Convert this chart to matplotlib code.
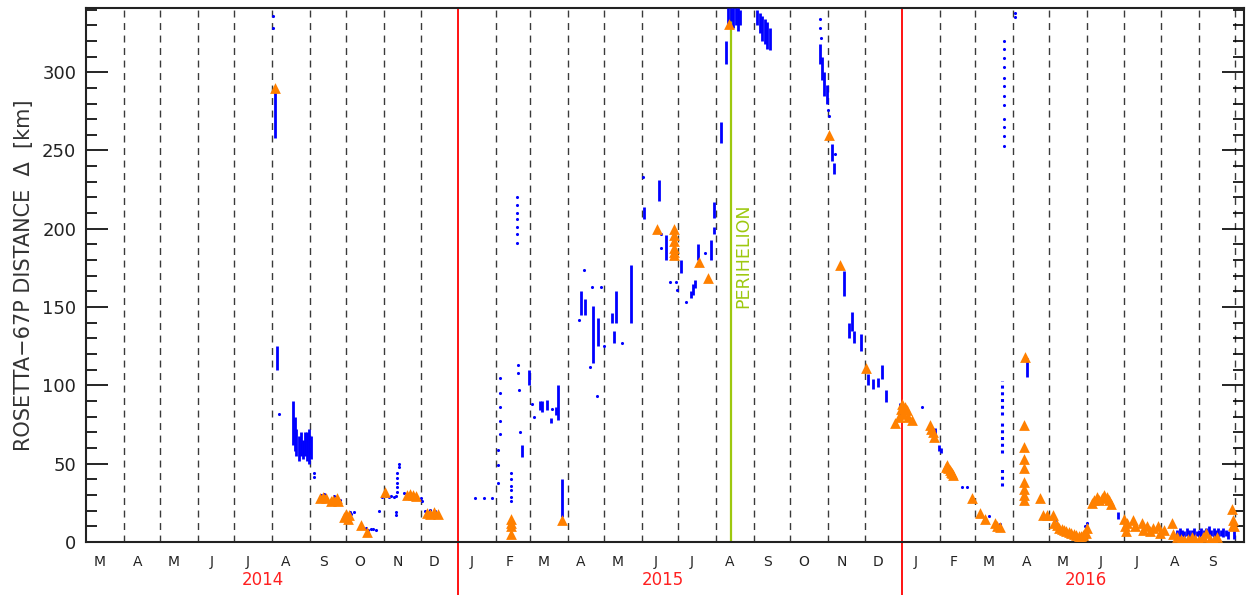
import numpy as np
import pandas as pd
import matplotlib
matplotlib.use('Agg')
import matplotlib.pyplot as plt
from matplotlib.ticker import MultipleLocator

# ---- data ----
# single blue measurements (date, distance km)
blue_dates = ['2014-08-02', '2014-08-02', '2014-08-07', '2014-09-04', '2014-09-04',
              '2014-09-10', '2014-09-13', '2014-09-21', '2014-09-26',
              '2014-10-04', '2014-10-05', '2014-10-07',
              '2014-10-17', '2014-10-19', '2014-10-21', '2014-10-23', '2014-10-25',
              '2014-10-28', '2014-10-30',
              '2014-11-03', '2014-11-05', '2014-11-07', '2014-11-09', '2014-11-11',
              '2014-11-11', '2014-11-11',
              '2014-11-13', '2014-11-13', '2014-11-12', '2014-11-12', '2014-11-12', '2014-11-12', '2014-11-12',
              '2014-11-17', '2014-12-01', '2014-12-02', '2014-12-05', '2014-12-09', '2014-12-13',
              '2015-01-15', '2015-01-22', '2015-01-29',
              '2015-02-04', '2015-02-04', '2015-02-04', '2015-02-04', '2015-02-04',
              '2015-02-03', '2015-02-03', '2015-02-03',
              '2015-02-18', '2015-02-18', '2015-02-18', '2015-02-18', '2015-02-18', '2015-02-18', '2015-02-18',
              '2015-02-13', '2015-02-13', '2015-02-13', '2015-02-13', '2015-02-13', '2015-02-13',
              '2015-02-19', '2015-02-19', '2015-02-20', '2015-02-21',
              '2015-03-03', '2015-03-04', '2015-03-19',
              '2015-04-10', '2015-04-14', '2015-04-19', '2015-04-21', '2015-04-25', '2015-04-28',
              '2015-05-01', '2015-05-16',
              '2015-06-02', '2015-06-17', '2015-06-17', '2015-06-24', '2015-06-29', '2015-06-30',
              '2015-07-07', '2015-07-23',
              '2015-10-25', '2015-10-25', '2015-10-26',
              '2015-11-01', '2015-11-02', '2015-11-07',
              '2016-01-17', '2016-02-19', '2016-02-23', '2016-03-12', '2016-03-21',
              '2016-03-25', '2016-03-25', '2016-03-25', '2016-03-25', '2016-03-25', '2016-03-25',
              '2016-03-25', '2016-03-25', '2016-03-25', '2016-03-25', '2016-03-25', '2016-03-25',
              '2016-04-03', '2016-04-03',
              '2016-05-06', '2016-05-30', '2016-06-01']
blue_vals = [336, 328, 82, 44, 41.5,
             30, 30.5, 29.5, 27,
             19.5, 18, 19,
             9, 8, 8.5, 8.5, 8,
             20, 29,
             29.5, 29, 29.5, 29, 29.5,
             19, 17,
             50, 48, 44, 41, 38, 35, 32,
             31, 28, 26, 20, 20.5, 20,
             28, 28, 28,
             105, 95, 86, 77, 69,
             59, 49, 38,
             220, 215, 210, 206, 201, 197, 191,
             44, 40, 36, 33, 29, 26,
             113, 108, 97, 70,
             88, 80, 85,
             142, 174, 112, 163, 93, 163,
             125, 127,
             233, 197, 188, 166, 166, 161,
             153.5, 184.5,
             334, 328, 322,
             276, 272, 248,
             86, 35, 35, 16.6, 11.5,
             320, 315, 309, 303, 296, 291,
             285, 279, 270, 265, 259, 253,
             338, 335,
             14, 10, 12]

# dense blue streaks (date, low, high)
streak_dates = ['2014-08-03', '2014-08-05',
                '2014-08-18', '2014-08-20', '2014-08-21', '2014-08-23', '2014-08-25',
                '2014-08-26', '2014-08-28', '2014-08-30', '2014-08-31', '2014-09-02',
                '2015-02-22', '2015-02-28',
                '2015-03-09', '2015-03-11', '2015-03-15', '2015-03-18', '2015-03-22', '2015-03-24',
                '2015-03-27',
                '2015-04-12', '2015-04-15', '2015-04-22', '2015-04-26',
                '2015-05-07', '2015-05-09', '2015-05-11', '2015-05-23',
                '2015-06-03', '2015-06-15', '2015-06-21', '2015-07-03',
                '2015-07-11', '2015-07-13', '2015-07-15', '2015-07-17', '2015-07-28',
                '2015-07-30', '2015-07-30',
                '2015-08-05', '2015-08-09',
                '2015-08-11', '2015-08-13', '2015-08-15', '2015-08-17', '2015-08-19', '2015-08-21',
                '2015-09-04', '2015-09-06', '2015-09-08', '2015-09-10', '2015-09-12', '2015-09-14',
                '2015-10-25', '2015-10-27', '2015-10-29', '2015-10-31',
                '2015-11-04', '2015-11-06', '2015-11-14', '2015-11-18', '2015-11-21',
                '2015-11-22', '2015-11-28',
                '2015-12-04', '2015-12-08', '2015-12-12', '2015-12-15', '2015-12-19', '2015-12-30',
                '2016-01-28', '2016-01-31', '2016-02-02',
                '2016-04-13', '2016-06-26',
                '2016-08-14', '2016-08-16', '2016-08-18', '2016-08-20', '2016-08-22', '2016-08-24',
                '2016-08-26', '2016-08-28', '2016-08-30', '2016-09-01', '2016-09-03', '2016-09-05',
                '2016-09-07', '2016-09-09', '2016-09-11', '2016-09-13', '2016-09-15', '2016-09-17',
                '2016-09-19', '2016-09-21', '2016-09-23', '2016-09-25', '2016-09-30']
streak_lo = [258, 110,
             62, 58, 55, 52, 55, 53, 55, 52, 50, 53,
             54, 100,
             84, 83, 84, 76, 81, 78,
             16,
             145, 145, 114, 125,
             140, 127, 140, 140,
             206, 218, 180, 172,
             156, 158, 162, 180, 180,
             207, 197,
             255, 305,
             330, 333, 328, 330, 326, 330,
             330, 325, 320, 318, 315, 314,
             305, 295, 285, 280,
             243, 235, 157, 130, 135, 127, 122,
             100, 98, 99, 104, 89.5, 80,
             65, 58, 57,
             105.5, 15,
             4, 3, 4, 3, 4, 3, 4, 3, 4, 3, 4, 3,
             4, 3, 4, 3, 4, 3, 4, 3, 4, 2, 2]
streak_hi = [290, 125,
             90, 80, 72, 68, 70, 65, 70, 70, 72, 68,
             62, 110,
             90, 90, 91, 79, 86, 100,
             40,
             160, 155, 151, 143,
             146, 135, 160, 177,
             214, 231, 196, 180,
             160, 165, 167, 190, 193,
             217, 201,
             268, 320,
             341, 341, 341, 341, 341, 340,
             340, 338, 336, 334, 332, 328,
             318, 310, 300, 292,
             254, 242, 173, 140, 147, 135, 133,
             107, 104, 105, 113, 97, 89,
             73, 62, 60,
             117.5, 19,
             8, 9, 8, 7, 9, 8, 8, 9, 7, 8, 9, 8,
             9, 10, 8, 9, 8, 9, 8, 9, 8, 7, 9]

# dotted blue columns (date, low, high)
dotcol_dates = ['2016-03-23', '2016-03-23', '2016-03-23']
dotcol_lo = [81, 57, 36]
dotcol_hi = [103, 77, 48]

# orange triangles (date, distance km)
tri_dates = ['2014-08-03',
             '2014-09-09', '2014-09-12', '2014-09-14', '2014-09-18', '2014-09-20', '2014-09-23', '2014-09-24',
             '2014-09-29', '2014-10-01', '2014-10-02', '2014-10-03',
             '2014-10-13', '2014-10-18', '2014-11-02',
             '2014-11-20', '2014-11-22', '2014-11-25', '2014-11-27',
             '2014-12-06', '2014-12-09', '2014-12-12', '2014-12-15',
             '2015-02-13', '2015-02-13', '2015-02-13', '2015-02-13',
             '2015-03-27', '2015-06-13',
             '2015-06-27', '2015-06-27', '2015-06-27', '2015-06-27', '2015-06-27', '2015-06-27',
             '2015-07-18', '2015-07-25',
             '2015-08-12', '2015-11-02', '2015-11-11', '2015-12-02', '2015-12-26',
             '2015-12-29', '2015-12-31', '2016-01-01', '2016-01-02', '2016-01-03', '2016-01-05', '2016-01-06',
             '2016-01-09', '2016-01-24', '2016-01-25', '2016-01-26', '2016-01-27',
             '2016-02-06', '2016-02-07', '2016-02-08', '2016-02-09', '2016-02-10', '2016-02-11', '2016-02-12',
             '2016-02-27', '2016-03-05', '2016-03-09', '2016-03-17', '2016-03-19', '2016-03-21',
             '2016-04-10', '2016-04-10', '2016-04-10', '2016-04-10', '2016-04-10', '2016-04-10',
             '2016-04-10', '2016-04-10', '2016-04-11',
             '2016-04-23', '2016-04-26', '2016-04-29', '2016-05-04',
             '2016-05-05', '2016-05-07', '2016-05-09', '2016-05-11', '2016-05-13', '2016-05-15',
             '2016-05-17', '2016-05-19', '2016-05-21', '2016-05-23', '2016-05-25', '2016-05-27',
             '2016-05-29', '2016-05-31', '2016-06-01',
             '2016-06-05', '2016-06-07', '2016-06-09', '2016-06-11', '2016-06-13', '2016-06-15',
             '2016-06-17', '2016-06-19', '2016-06-21',
             '2016-07-01', '2016-07-02', '2016-07-03', '2016-07-04', '2016-07-09', '2016-07-10',
             '2016-07-16', '2016-07-17', '2016-07-20', '2016-07-23', '2016-07-25', '2016-07-29',
             '2016-07-31', '2016-08-03', '2016-08-10', '2016-08-11', '2016-08-14', '2016-08-17',
             '2016-08-20', '2016-08-23', '2016-08-26', '2016-08-29', '2016-09-01', '2016-09-04',
             '2016-09-07', '2016-09-10', '2016-09-13', '2016-09-16',
             '2016-09-28', '2016-09-29', '2016-09-29', '2016-09-30']
tri_vals = [290,
            28, 29, 28, 26, 27, 28, 26,
            16, 18, 15, 17,
            11, 6.4, 32,
            30, 30.5, 30, 29.5,
            18.5, 18, 19, 18,
            15, 12, 10, 5,
            14, 200,
            200, 196, 192, 188, 185, 183,
            179, 168.7,
            331, 260, 177, 111, 76,
            80, 85, 88, 82, 86, 84, 80,
            78, 75, 72, 70, 67,
            48, 49, 47, 46, 45, 44, 43,
            28, 18.5, 15, 12, 10.5, 9.5,
            75, 61, 53, 47, 38.5, 34,
            30, 27, 118,
            28, 17, 17, 17,
            12, 11, 9, 8.5, 7.5, 7,
            6.5, 6, 5, 4.5, 4, 4,
            4.5, 6, 9,
            25, 27, 29, 27, 28, 30,
            29, 27, 24,
            15, 10, 7, 12, 14, 10,
            12, 8, 10, 7, 9, 10,
            6, 8, 12, 5, 3, 2,
            1.5, 2, 3, 2, 1.5, 3,
            6, 2, 1, 3,
            21, 14, 11, 10]

month_letters = ['J', 'F', 'M', 'A', 'M', 'J', 'J', 'A', 'S', 'O', 'N', 'D']
years = ['2014', '2015', '2016']
perihelion = '2015-08-13'

# ---- plot ----
plt.rcParams['font.family'] = ['DejaVu Sans']
fig = plt.figure(figsize=(12.49, 5.95), dpi=100)
ax = fig.add_axes([0.0689, 0.089, 0.9271, 0.8976])

xmin, xmax = pd.Timestamp('2014-03-01'), pd.Timestamp('2016-10-08')

# month grid
months = pd.date_range('2014-04-01', '2016-10-01', freq='MS')
for m in months:
    if m.month == 1:
        ax.axvline(m, color='red', lw=1.3, ymin=-0.1, ymax=1, clip_on=False, zorder=1)
    else:
        ax.axvline(m, color='#3a3a3a', lw=1.0, ls=(0, (5, 4)), zorder=1)

ax.axvline(pd.Timestamp(perihelion), color='#9dc80f', lw=1.6, zorder=1)
ax.text(pd.Timestamp('2015-08-23'), 183, 'PERIHELION', rotation=90, color='#9dc80f',
        fontsize=12.5, ha='center', va='center')

ax.vlines(pd.to_datetime(streak_dates), streak_lo, streak_hi, color='#0000ff', lw=2.0, zorder=3)
ax.vlines(pd.to_datetime(dotcol_dates), dotcol_lo, dotcol_hi, color='#0000ff', lw=2.2,
          linestyles=(0, (1, 1.2)), zorder=3)
ax.scatter(pd.to_datetime(blue_dates), blue_vals, s=5, color='#0000ff', zorder=3, linewidths=0)
ax.scatter(pd.to_datetime(tri_dates), tri_vals, marker='^', s=60, color='#ff8000',
           zorder=4, linewidths=0)

ax.set_xlim(xmin, xmax)
ax.set_ylim(0, 341)
ax.set_xticks([])

ax.yaxis.set_major_locator(MultipleLocator(50))
ax.yaxis.set_minor_locator(MultipleLocator(10))
ax.tick_params(axis='y', which='both', direction='in', left=True, right=True,
               labelsize=13, labelcolor='#222222', pad=7)
ax.tick_params(axis='y', which='major', length=16, width=1.2)
ax.tick_params(axis='y', which='minor', length=8, width=1.2)
for sp in ax.spines.values():
    sp.set_linewidth(1.5)
    sp.set_color('#222222')

ax.set_ylabel('ROSETTA\u221267P DISTANCE  \u0394  [km]', fontsize=15, color='#333333', labelpad=6)

# month and year labels under the axis
trans = ax.get_xaxis_transform()
for m in pd.date_range('2014-03-01', '2016-09-01', freq='MS'):
    ax.text(m + pd.Timedelta(days=11), -0.038, month_letters[m.month - 1], transform=trans,
            ha='center', va='center', fontsize=10, color='#222222')
year_pos = ['2014-07-24', '2015-06-18', '2016-05-31']
for y, p in zip(years, year_pos):
    ax.text(pd.Timestamp(p), -0.072, y, transform=trans, ha='center', va='center',
            fontsize=12, color='#ff2020')

plt.savefig('out.png', dpi=100)
